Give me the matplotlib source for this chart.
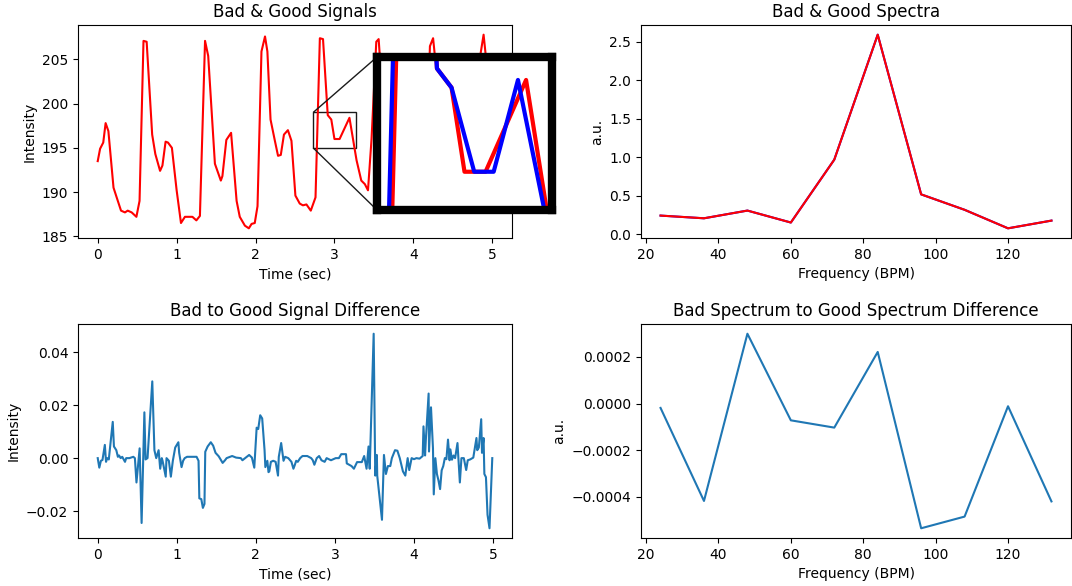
import numpy as np
import matplotlib
matplotlib.use('Agg')
import matplotlib.pyplot as plt
from mpl_toolkits.axes_grid1.inset_locator import mark_inset

# Signal (bad = red, good = blue)
t_good = [0.00, 0.03, 0.07, 0.10, 0.135, 0.20, 0.24, 0.295, 0.345, 0.38,
          0.43, 0.49, 0.53, 0.58, 0.62, 0.69, 0.73, 0.79, 0.82, 0.86,
          0.89, 0.94, 1.00, 1.055, 1.105, 1.15, 1.20, 1.25, 1.295, 1.36,
          1.40, 1.485, 1.56, 1.58, 1.63, 1.69, 1.76, 1.80, 1.865, 1.915,
          1.95, 1.99, 2.025, 2.075, 2.12, 2.15, 2.19, 2.245, 2.285, 2.32,
          2.36, 2.41, 2.455, 2.505, 2.56, 2.60, 2.645, 2.70, 2.75, 2.805,
          2.855, 2.915, 2.96, 3.03, 3.09, 3.165, 3.28, 3.34, 3.385, 3.425,
          3.47, 3.53, 3.56, 3.62, 3.68, 3.74, 3.80, 3.86, 3.93, 3.99,
          4.05, 4.10, 4.15, 4.21, 4.25, 4.30, 4.36, 4.42, 4.48, 4.54,
          4.60, 4.66, 4.72, 4.78, 4.84, 4.89, 4.94, 5.00]
t_bad = [0.00, 0.03, 0.07, 0.10, 0.135, 0.20, 0.24, 0.295, 0.345, 0.38,
         0.43, 0.49, 0.53, 0.58, 0.62, 0.69, 0.73, 0.79, 0.82, 0.86,
         0.89, 0.94, 1.00, 1.055, 1.105, 1.15, 1.20, 1.25, 1.295, 1.36,
         1.40, 1.485, 1.56, 1.58, 1.63, 1.69, 1.76, 1.80, 1.865, 1.915,
         1.95, 1.99, 2.025, 2.075, 2.12, 2.15, 2.19, 2.245, 2.285, 2.32,
         2.36, 2.41, 2.455, 2.505, 2.56, 2.60, 2.645, 2.70, 2.76, 2.815,
         2.855, 2.915, 2.96, 3.00, 3.065, 3.19, 3.28, 3.34, 3.385, 3.425,
         3.47, 3.53, 3.56, 3.62, 3.68, 3.74, 3.80, 3.86, 3.93, 3.99,
         4.05, 4.10, 4.15, 4.21, 4.25, 4.30, 4.36, 4.42, 4.48, 4.54,
         4.60, 4.66, 4.72, 4.78, 4.84, 4.89, 4.94, 5.00]
signal = [193.5, 194.9, 195.6, 197.8, 196.9, 190.5, 189.4, 187.9, 187.7, 187.9,
          187.7, 187.2, 189.0, 207.1, 207.0, 196.5, 194.3, 192.4, 193.0, 195.7,
          195.6, 195.0, 190.2, 186.5, 187.2, 187.2, 187.2, 186.8, 187.3, 207.1,
          205.4, 193.2, 191.3, 191.8, 195.9, 196.7, 189.0, 187.2, 186.2, 185.9,
          186.4, 186.5, 188.4, 205.9, 207.6, 205.9, 198.2, 195.8, 194.1, 194.2,
          196.5, 197.0, 195.8, 189.6, 188.7, 188.5, 188.6, 187.9, 189.4, 207.4,
          207.3, 198.7, 198.2, 196.0, 196.0, 198.4, 193.6, 191.3, 190.9, 190.2,
          196.0, 207.0, 207.3, 199.5, 196.0, 194.8, 196.5, 195.5, 191.0, 189.0,
          188.6, 188.8, 189.5, 206.5, 207.4, 203.0, 196.5, 194.5, 196.0, 195.0,
          190.5, 189.2, 189.0, 189.8, 205.0, 207.8, 203.5, 197.5]

# Signal difference
diff_t = [0.00, 0.02, 0.04, 0.06, 0.09, 0.105, 0.12, 0.14, 0.19, 0.205,
          0.235, 0.255, 0.27, 0.29, 0.31, 0.345, 0.36, 0.40, 0.45, 0.47,
          0.49, 0.53, 0.555, 0.59, 0.605, 0.63, 0.69, 0.717, 0.74, 0.77,
          0.79, 0.81, 0.82, 0.86, 0.87, 0.90, 0.925, 0.95, 0.98, 1.02,
          1.03, 1.06, 1.08, 1.10, 1.13, 1.20, 1.25, 1.275, 1.285, 1.31,
          1.33, 1.35, 1.36, 1.39, 1.43, 1.46, 1.49, 1.53, 1.58, 1.61,
          1.63, 1.70, 1.75, 1.81, 1.83, 1.915, 1.95, 1.98, 2.01, 2.03,
          2.055, 2.08, 2.11, 2.12, 2.145, 2.16, 2.17, 2.19, 2.22, 2.25,
          2.28, 2.29, 2.32, 2.35, 2.37, 2.41, 2.45, 2.475, 2.49, 2.51,
          2.53, 2.56, 2.59, 2.65, 2.70, 2.72, 2.74, 2.77, 2.80, 2.83,
          2.87, 2.895, 2.95, 3.01, 3.05, 3.08, 3.14, 3.15, 3.21, 3.24,
          3.28, 3.34, 3.37, 3.40, 3.425, 3.44, 3.49, 3.51, 3.53, 3.535,
          3.595, 3.62, 3.645, 3.67, 3.70, 3.72, 3.76, 3.79, 3.82, 3.86,
          3.89, 3.92, 3.94, 3.97, 4.00, 4.03, 4.07, 4.11, 4.12, 4.14,
          4.15, 4.185, 4.19, 4.215, 4.24, 4.25, 4.27, 4.29, 4.31, 4.33,
          4.35, 4.37, 4.39, 4.41, 4.43, 4.45, 4.46, 4.48, 4.50, 4.52,
          4.55, 4.58, 4.60, 4.63, 4.66, 4.68, 4.71, 4.75, 4.79, 4.80,
          4.82, 4.85, 4.86, 4.88, 4.89, 4.91, 4.93, 4.955, 4.99]
diff_v = [0.0000, -0.0036, -0.0010, -0.0007, 0.0050, -0.0014, 0.0000, -0.0005, 0.0137, 0.0044,
          0.0030, 0.0005, 0.0010, 0.0000, 0.0005, -0.0014, 0.0000, 0.0000, 0.0005, 0.0000,
          -0.0092, 0.0037, -0.0245, 0.0173, -0.0005, 0.0000, 0.0290, 0.0030, 0.0000, 0.0030,
          -0.0040, 0.0000, -0.0010, -0.0070, 0.0000, -0.0010, -0.0070, -0.0010, 0.0040, 0.0060,
          0.0020, -0.0034, -0.0010, 0.0000, 0.0005, 0.0005, 0.0005, -0.0010, -0.0152, -0.0155,
          -0.0188, -0.0173, 0.0024, 0.0044, 0.0060, 0.0047, 0.0020, 0.0007, -0.0018, -0.0008,
          0.0000, 0.0008, 0.0002, 0.0000, -0.0008, 0.0012, 0.0002, -0.0036, 0.0115, 0.0110,
          0.0162, 0.0150, 0.0030, -0.0034, -0.0010, -0.0053, -0.0050, -0.0014, -0.0010, -0.0014,
          -0.0066, 0.0005, 0.0057, -0.0010, 0.0005, 0.0000, -0.0014, -0.0040, -0.0028, -0.0010,
          -0.0014, 0.0000, 0.0008, 0.0008, 0.0000, -0.0008, -0.0025, 0.0000, 0.0008, -0.0008,
          -0.0014, 0.0000, -0.0008, 0.0000, 0.0000, 0.0015, 0.0015, -0.0020, -0.0030, -0.0040,
          -0.0015, -0.0015, 0.0008, -0.0040, 0.0044, -0.0040, 0.0470, -0.0066, 0.0012, -0.0066,
          -0.0233, 0.0012, -0.0060, -0.0030, -0.0030, 0.0000, 0.0030, 0.0028, 0.0000, -0.0050,
          -0.0066, 0.0000, -0.0045, 0.0000, -0.0004, 0.0000, -0.0002, 0.0008, 0.0120, 0.0010,
          0.0070, 0.0244, 0.0025, 0.0192, 0.0037, -0.0137, 0.0000, -0.0060, -0.0085, -0.0117,
          -0.0046, -0.0030, 0.0000, -0.0004, 0.0070, -0.0008, 0.0033, -0.0006, 0.0010, 0.0000,
          0.0057, -0.0092, 0.0000, 0.0000, -0.0045, -0.0008, -0.0005, 0.0002, 0.0076, 0.0030,
          0.0040, 0.0147, 0.0020, 0.0076, -0.0060, -0.0072, -0.0214, -0.0265, 0.0000]

# Spectra
freqs = [24, 36, 48, 60, 72, 84, 96, 108, 120, 132]
bad_spec = [0.245, 0.21, 0.31, 0.155, 0.97, 2.59, 0.52, 0.32, 0.08, 0.18]
good_spec = [0.245, 0.21, 0.31, 0.155, 0.97, 2.59, 0.52, 0.32, 0.08, 0.18]
spec_diff = [-0.0000187, -0.000417, 0.000299, -0.0000718, -0.000103,
             0.000221, -0.000534, -0.000484, -0.0000115, -0.000419]

W, H = 1072, 586
fig = plt.figure(figsize=(W / 100, H / 100), dpi=100)


def box(x0, y0, x1, y1):
    # pixel box (top-left origin) -> figure fraction
    return [x0 / W, (H - y1) / H, (x1 - x0) / W, (y1 - y0) / H]


ax1 = fig.add_axes(box(78, 25, 512, 238))
ax2 = fig.add_axes(box(641, 25, 1071, 238))
ax3 = fig.add_axes(box(78, 324, 512, 538))
ax4 = fig.add_axes(box(641, 324, 1071, 538))

# good signal sits under the bad one in the main view
ax1.plot(t_bad, signal, color='r')
ax1.set_title('Bad & Good Signals')
ax1.set_xlabel('Time (sec)')
ax1.set_ylabel('Intensity')

axins = fig.add_axes(box(377, 57, 552, 210))
axins.plot(t_bad, signal, color='r', lw=3)
axins.plot(t_good, signal, color='b', lw=3)
axins.set_xlim(2.73, 3.27)
axins.set_ylim(195, 199)
axins.set_xticks([])
axins.set_yticks([])
for s in axins.spines.values():
    s.set_linewidth(6)
    s.set_color('k')
mark_inset(ax1, axins, loc1=2, loc2=3, fc='none', ec='0.1', lw=1.0)

ax2.plot(freqs, good_spec, color='b')
ax2.plot(freqs, bad_spec, color='r')
ax2.set_title('Bad & Good Spectra')
ax2.set_xlabel('Frequency (BPM)')
ax2.set_ylabel('a.u.')

ax3.plot(diff_t, diff_v)
ax3.set_title('Bad to Good Signal Difference')
ax3.set_xlabel('Time (sec)')
ax3.set_ylabel('Intensity')

ax4.plot(freqs, spec_diff)
ax4.set_title('Bad Spectrum to Good Spectrum Difference')
ax4.set_xlabel('Frequency (BPM)')
ax4.set_ylabel('a.u.')

fig.savefig('out.png', dpi=100)
